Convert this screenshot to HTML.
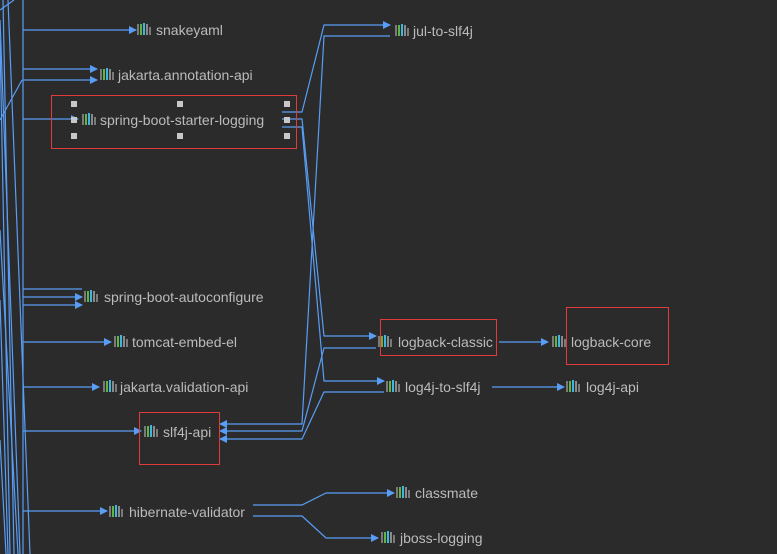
<!DOCTYPE html>
<html><head><meta charset="utf-8"><style>
html,body{margin:0;padding:0;background:#2b2b2b;}
svg{display:block}
text{font-family:"Liberation Sans",sans-serif;font-size:14px;fill:#bbbbbb;}
</style></head><body>
<svg width="777" height="554" viewBox="0 0 777 554" xmlns="http://www.w3.org/2000/svg">
<defs>
<marker id="a" markerWidth="8" markerHeight="8" refX="7" refY="4" orient="auto" markerUnits="userSpaceOnUse"><path d="M0,0 L8,4 L0,8 z" fill="#589df6"/></marker>
<g id="ic"><rect x="0" y="-6" width="2" height="11" fill="#7a7a7a"/><rect x="3" y="-6" width="2" height="11" fill="#62b543"/><rect x="6" y="-7" width="2" height="12" fill="#40b6e0"/><rect x="9" y="-6" width="2" height="11" fill="#8a8a8a"/><rect x="12" y="-3" width="2" height="8" fill="#7a7a7a"/></g>
</defs>
<g fill="none" stroke="#589df6" stroke-width="1.2">
<line x1="23" y1="0" x2="23" y2="554"/>
<path d="M0,10 L14,0"/><path d="M0,20 L20,554"/><path d="M3,0 L14,554"/><path d="M8,0 L30,554"/><path d="M0,40 L10,554"/>
<path d="M0,120 L22,80"/><path d="M0,230 L18,554"/><path d="M0,300 L8,554"/>
<path d="M0,440 L6,554"/>
<path d="M23,30 H136" marker-end="url(#a)"/>
<path d="M23,69 H97" marker-end="url(#a)"/>
<path d="M23,80 H97" marker-end="url(#a)"/>
<path d="M23,119 H78" marker-end="url(#a)"/>
<path d="M23,289 H82"/>
<path d="M23,297 H82" marker-end="url(#a)"/>
<path d="M23,305 H82" marker-end="url(#a)"/>
<path d="M23,342 H111" marker-end="url(#a)"/>
<path d="M23,387 H99" marker-end="url(#a)"/>
<path d="M23,431 H141" marker-end="url(#a)"/>
<path d="M23,511 H107" marker-end="url(#a)"/>
<path d="M282,112 H302 L324,25 H390" marker-end="url(#a)"/>
<path d="M390,36 H324 L302,424 H220" marker-end="url(#a)"/>
<path d="M282,119 H302 L324,336 H376" marker-end="url(#a)"/>
<path d="M376,348 H324 L302,431 H220" marker-end="url(#a)"/>
<path d="M282,127 H302 L324,381 H384" marker-end="url(#a)"/>
<path d="M384,392 H324 L302,439 H220" marker-end="url(#a)"/>
<path d="M499,342 H548" marker-end="url(#a)"/>
<path d="M492,387 H564" marker-end="url(#a)"/>
<path d="M253,505 H302 L326,493 H394" marker-end="url(#a)"/>
<path d="M253,516 H302 L326,538 H378" marker-end="url(#a)"/>
</g>
<g fill="none" stroke="#e03c3c" stroke-width="1">
<rect x="51.5" y="95.5" width="245" height="53"/>
<rect x="139.5" y="412.5" width="80" height="52"/>
<rect x="380.5" y="319.5" width="116" height="36"/>
<rect x="566.5" y="307.5" width="102" height="57"/>
</g>
<g fill="#c8c8c8">
<rect x="71" y="101" width="6" height="6"/><rect x="177" y="101" width="6" height="6"/><rect x="284" y="101" width="6" height="6"/>
<rect x="71" y="117" width="6" height="6"/><rect x="284" y="117" width="6" height="6"/>
<rect x="71" y="133" width="6" height="6"/><rect x="177" y="133" width="6" height="6"/><rect x="284" y="133" width="6" height="6"/>
</g>
<use href="#ic" x="137" y="30"/><text x="156" y="35">snakeyaml</text>
<use href="#ic" x="100" y="75"/><text x="118" y="80">jakarta.annotation-api</text>
<use href="#ic" x="82" y="120"/><text x="100" y="125">spring-boot-starter-logging</text>
<use href="#ic" x="395" y="31"/><text x="413" y="36">jul-to-slf4j</text>
<use href="#ic" x="84" y="297"/><text x="104" y="302">spring-boot-autoconfigure</text>
<use href="#ic" x="114" y="342"/><text x="132" y="347">tomcat-embed-el</text>
<use href="#ic" x="103" y="387"/><text x="120" y="392">jakarta.validation-api</text>
<use href="#ic" x="144" y="432"/><text x="163" y="437">slf4j-api</text>
<use href="#ic" x="378" y="342"/><text x="398" y="347">logback-classic</text>
<use href="#ic" x="552" y="342"/><text x="571" y="347">logback-core</text>
<use href="#ic" x="386" y="387"/><text x="405" y="392">log4j-to-slf4j</text>
<use href="#ic" x="566" y="387"/><text x="586" y="392">log4j-api</text>
<use href="#ic" x="109" y="512"/><text x="129" y="517">hibernate-validator</text>
<use href="#ic" x="396" y="493"/><text x="415" y="498">classmate</text>
<use href="#ic" x="381" y="538"/><text x="400" y="543">jboss-logging</text>
</svg>
</body></html>
